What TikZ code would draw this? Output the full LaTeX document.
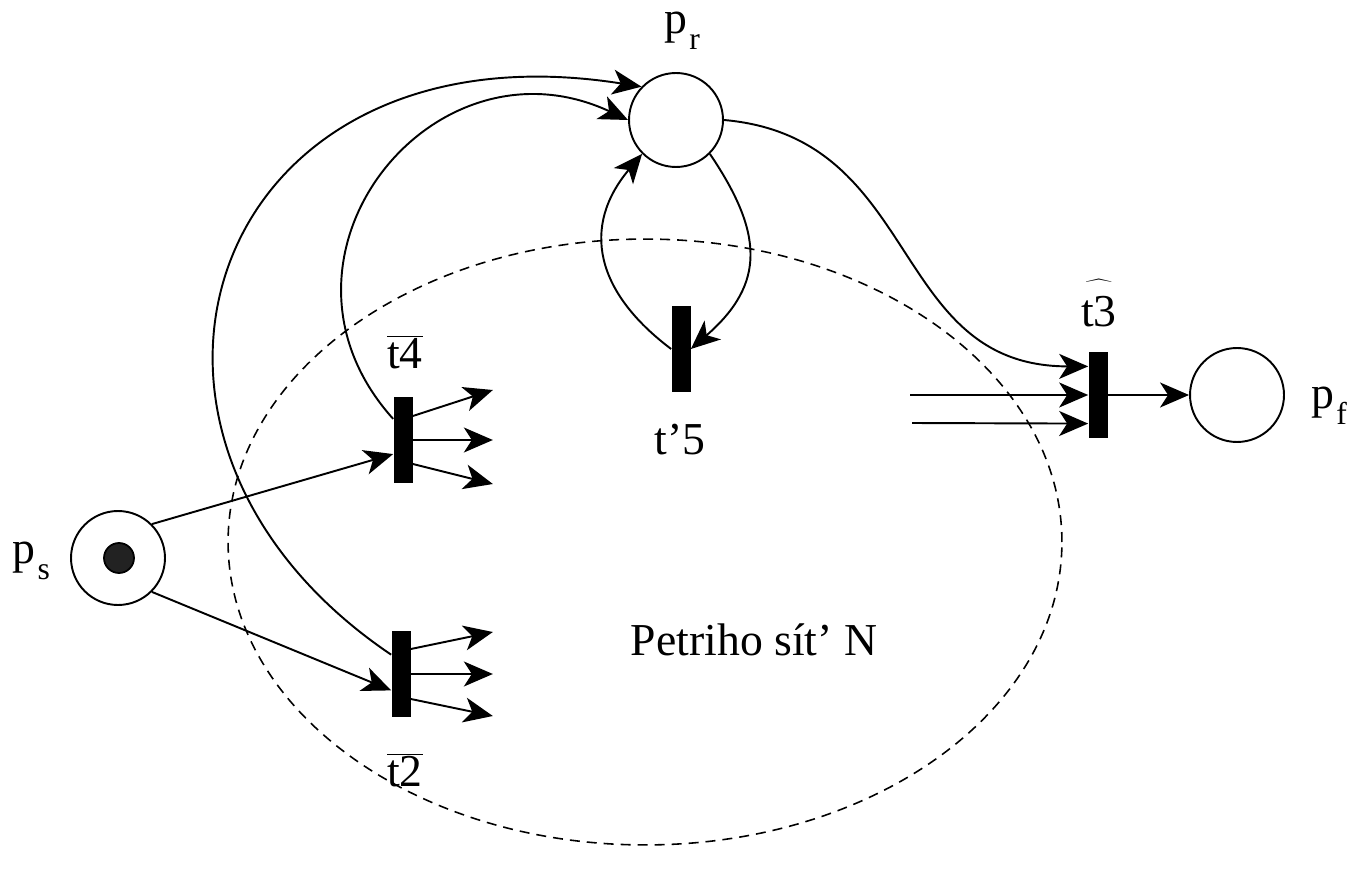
\documentclass[tikz,border=0pt]{standalone}
\usepackage{fontspec}
\setmainfont{Liberation Serif}
\usepackage{tikz}
\usetikzlibrary{arrows.meta, shapes.geometric}
\definecolor{tokengray}{RGB}{34,34,34}
\newcommand{\pidx}[1]{\kern1.5pt\raisebox{-0.34em}{\fontsize{18}{20}\selectfont #1}}
\tikzset{
  place/.style = {draw, circle, line width=1.1pt, minimum size=1.88cm, inner sep=0pt},
  token/.style = {draw, circle, fill=tokengray, line width=1pt, minimum size=0.6cm, inner sep=0pt},
  trans/.style = {fill=black, rectangle, minimum width=0.38cm, minimum height=1.74cm, inner sep=0pt},
  lbl/.style   = {font=\fontsize{26}{30}\selectfont, inner sep=0pt},
  arr/.style   = {-{Stealth[length=0.58cm, width=0.5cm, inset=0.16cm]}, line width=1.1pt},
  net/.style   = {draw, ellipse, dash pattern=on 0.2cm off 0.14cm, line width=0.9pt,
                  minimum width=16.68cm, minimum height=12.12cm, inner sep=0pt},
}

\begin{document}
\begin{tikzpicture}[x=0.02cm, y=0.02cm]
  \useasboundingbox (0,0) rectangle (1348,873);
  % net N
  \node[net] (netN) at (645,331) {};
  \node[lbl] (netl) at (754,233) {Petriho sít’\hspace{0.25em}N};

  % places
  \node[place] (pr) at (676,753) {};
  \node[place] (ps) at (118,315) {};
  \node[token] (tok) at (119,315) {};
  \node[place] (pf) at (1237,478) {};

  % transitions
  \node[trans] (t4) at (403,433) {};
  \node[trans] (t2) at (401,199) {};
  \node[trans] (t5) at (681,524) {};
  \node[trans] (t3) at (1098,478) {};

  % labels
  \node[lbl] (prl) at (682,842) {p\pidx{r}};
  \node[lbl] (psl) at (31,312) {p\pidx{s}};
  \node[lbl] (pfl) at (1329,467) {p\pidx{f}};
  \node[lbl] (t4l) at (405,521) {$\overline{\mbox{t4}}$};
  \node[lbl] (t2l) at (405,103) {$\overline{\mbox{t2}}$};
  \node[lbl] (t5l) at (680,433) {t’5};
  \node[lbl] (t3l) at (1099,570) {$\widehat{\mbox{t3}\rule{0pt}{0.92em}}$};

  % start arcs
  \draw[arr] (ps.45) -- (t4.235);
  \draw[arr] (ps.-45) -- (t2.239);

  % outputs into the net
  \foreach \i/\dy/\ey in {1/24/26, 2/0/0, 3/-24/-20} {
    \path ([yshift=\dy*0.02cm]t4.east) ++(80,\ey) coordinate (t4out\i);
    \draw[arr] ([yshift=\dy*0.02cm]t4.east) -- (t4out\i);
  }
  \foreach \i/\dy/\ey in {1/25/17, 2/0/0, 3/-25/-17} {
    \path ([yshift=\dy*0.02cm]t2.east) ++(82,\ey) coordinate (t2out\i);
    \draw[arr] ([yshift=\dy*0.02cm]t2.east) -- (t2out\i);
  }

  % back to p_r
  \draw[arr] (t4.115) .. controls +(132:216) and +(155:216) .. (pr.west);
  \draw[arr] (t2.117) .. controls +(146:390) and +(171:440) .. (pr.136);
  \draw[arr] (pr.-45) .. controls +(-56:95) and +(41:100) .. (t5.east);
  \draw[arr] (t5.west) .. controls +(143:95) and +(230:95) .. (pr.225);

  % into the final transition
  \coordinate (in1) at (910,478);
  \coordinate (in2) at (912,450);
  \draw[arr] (pr.east) .. controls +(-5:200) and +(180:200) .. (t3.109);
  \draw[arr] (in1) -- (t3.west);
  \draw[arr] (in2) -- (t3.251);
  \draw[arr] (t3) -- (pf);
\end{tikzpicture}
\end{document}
